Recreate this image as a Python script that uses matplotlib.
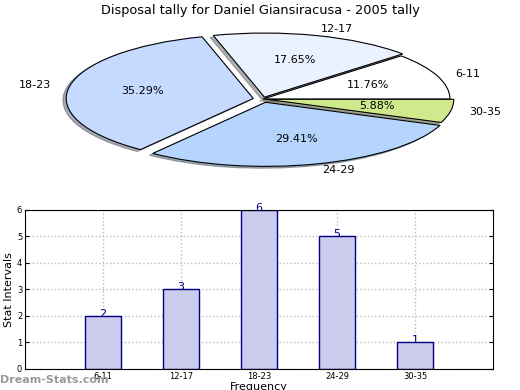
import matplotlib
matplotlib.use("Agg")
import matplotlib.pyplot as plt

categories = ["6-11", "12-17", "18-23", "24-29", "30-35"]
counts = [2, 3, 6, 5, 1]
pie_colors = ["#ffffff", "#eaf1ff", "#c6d9ff", "#b5d5ff", "#cfe98c"]
explode = [0.0, 0.03, 0.05, 0.05, 0.02]
title = "Disposal tally for Daniel Giansiracusa - 2005 tally"

fig = plt.figure(figsize=(5.2, 3.9), dpi=100)

# Pie (squashed to an ellipse)
axp = fig.add_axes([0.037, 0.532, 0.937, 0.428])
axp.pie(counts, labels=categories, colors=pie_colors, explode=explode,
        autopct="%1.2f%%", shadow=dict(ox=-0.012, oy=-0.02, shade=0.6),
        startangle=0, radius=0.96,
        wedgeprops=dict(edgecolor="black", linewidth=0.8),
        textprops=dict(fontsize=8))
axp.set_aspect("auto")
axp.set_xlim(-1.25, 1.25)
axp.set_ylim(-1.25, 1.25)
fig.text(0.5, 0.973, title, ha="center", va="center", fontsize=9.3)

# Bars
axb = fig.add_axes([0.048, 0.054, 0.9, 0.408])
pos = list(range(1, len(categories) + 1))
axb.bar(pos, counts, width=0.46, color="#ccccee", edgecolor="#000080", linewidth=1)
for p, v in zip(pos, counts):
    axb.annotate(str(v), (p, v), xytext=(0, -2), textcoords="offset points",
                 ha="center", va="bottom", color="#000080", fontsize=8)
axb.set_xlim(0, 6)
axb.set_ylim(0, 6)
axb.set_xticks(pos)
axb.set_xticklabels(categories)
axb.set_yticks(range(0, 7))
axb.tick_params(direction="in", labelsize=6, length=3, right=True, top=False, pad=2)
axb.grid(True, linestyle=":", color="#bbbbbb", linewidth=1)
axb.set_axisbelow(True)
axb.set_ylabel("Stat Intervals", fontsize=8, labelpad=2)
axb.set_xlabel("Frequency", fontsize=8, labelpad=1)

fig.text(0.0, 0.025, "Dream-Stats.com", ha="left", va="center", fontsize=8,
         color="#999999", fontweight="bold")

fig.savefig("out.png", dpi=100)
